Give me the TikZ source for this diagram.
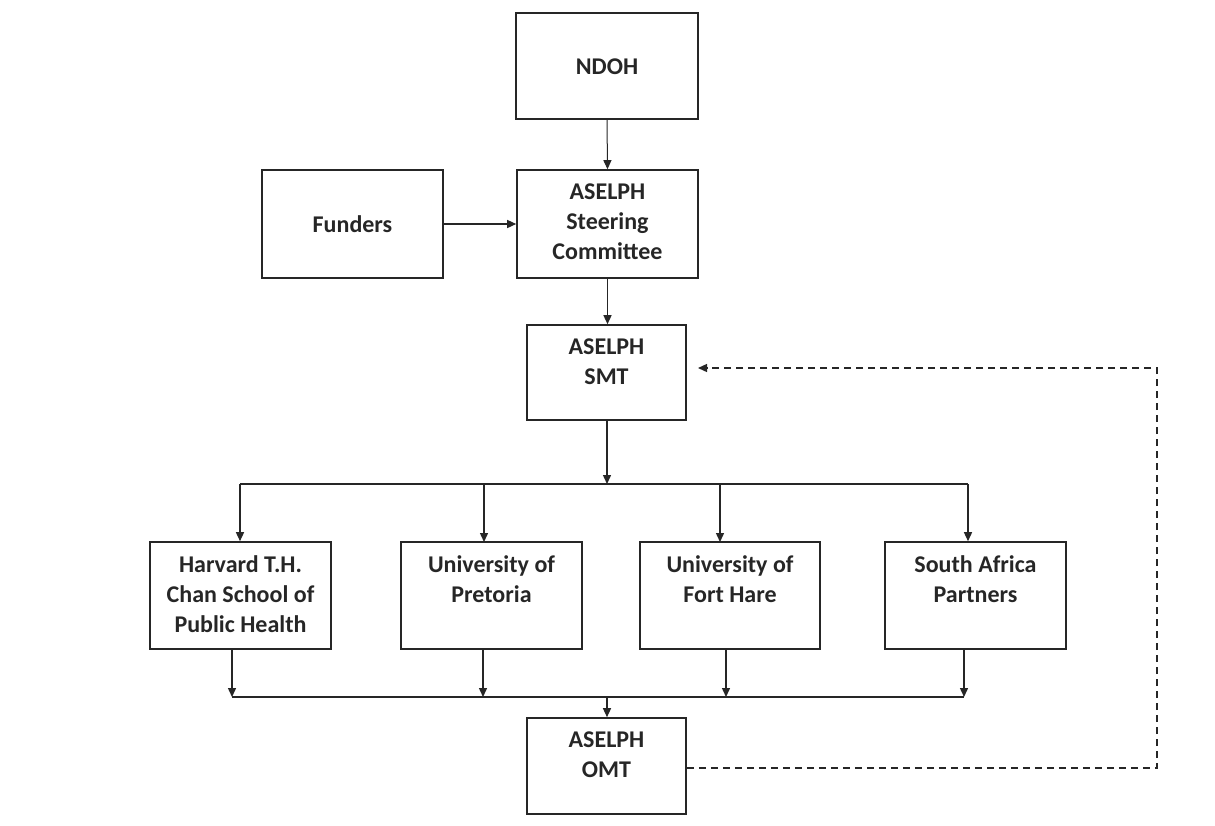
\documentclass[tikz,border=0pt]{standalone}
\usepackage{fontspec}
\setmainfont{Carlito}
\usetikzlibrary{arrows.meta}
\begin{document}
\begin{tikzpicture}[x=1pt,y=-1pt,
  box/.style={draw=black!85,line width=1.6pt,inner sep=0pt},
  txt/.style={font=\fontsize{24}{30}\selectfont\bfseries,align=center,inner sep=0pt,text=black!85},
  con/.style={line width=1.4pt,draw=black!85,-{Triangle[length=9pt,width=8pt]}},
  line/.style={line width=1.4pt,draw=black!85},
  dashline/.style={line width=1.4pt,draw=black!85,dash pattern=on 7pt off 5pt}]
\useasboundingbox (0,0) rectangle (1215,825);
% boxes
\node[box,minimum width=182pt,minimum height=106pt] (ndoh) at (607,66) {};
\node[txt] (ndoht) at ([yshift=-1pt]ndoh.center) {NDOH};
\node[box,minimum width=181pt,minimum height=108pt] (fund) at (352.5,224) {};
\node[txt] (fundt) at (fund.center) {Funders};
\node[box,minimum width=181pt,minimum height=108pt] (steer) at (607.5,224) {};
\node[txt] (steert) at ([yshift=2pt]steer.center) {ASELPH\\Steering\\Committee};
\node[box,minimum width=159pt,minimum height=95pt] (smt) at (606.5,372.5) {};
\node[txt,anchor=north] (smtt) at ([yshift=-14pt]smt.north) {ASELPH\\SMT};
\node[box,minimum width=181pt,minimum height=107pt] (harv) at (240.5,595.5) {};
\node[txt,anchor=north] (harvt) at ([yshift=-14pt]harv.north) {Harvard T.H.\\Chan School of\\Public Health};
\node[box,minimum width=181pt,minimum height=107pt] (pret) at (491.5,595.5) {};
\node[txt,anchor=north] (prett) at ([yshift=-14pt]pret.north) {University of\\Pretoria};
\node[box,minimum width=180pt,minimum height=107pt] (fort) at (730,595.5) {};
\node[txt,anchor=north] (fortt) at ([yshift=-14pt]fort.north) {University of\\Fort Hare};
\node[box,minimum width=181pt,minimum height=107pt] (sap) at (975.5,595.5) {};
\node[txt,anchor=north] (sapt) at ([yshift=-14pt]sap.north) {South Africa\\Partners};
\node[box,minimum width=159pt,minimum height=96pt] (omt) at (606.5,766) {};
\node[txt,anchor=north] (omtt) at ([yshift=-14pt]omt.north) {ASELPH\\OMT};
% coordinates
\coordinate (bus1) at (607,484);
\coordinate (b1l) at (240,484);
\coordinate (b1r) at (968,484);
\coordinate (bus2) at (607,697);
\coordinate (b2l) at (232,697);
\coordinate (b2r) at (964,697);
\coordinate (dc1) at (1157,768);
\coordinate (dc2) at (1157,368);
\coordinate (dend) at (698,368);
% connectors
\draw[con,line width=1pt] (ndoh.south) -- (steer.north);
\draw[con] (fund.east) -- (steer.west);
\draw[con] (steer.south) -- (smt.north -| steer.south);
\draw[con] (smt.south -| bus1) -- (bus1);
\draw[line] (b1l) -- (b1r);
\draw[con] (b1l) -- (b1l |- harv.north);
\draw[con] (484,484) -- (484,542);
\draw[con] (720,484) -- (720,542);
\draw[con] (b1r) -- (b1r |- sap.north);
\draw[con] (b2l |- harv.south) -- (b2l);
\draw[con] (483,649) -- (483,697);
\draw[con] (726,649) -- (726,697);
\draw[con] (b2r |- sap.south) -- (b2r);
\draw[line] (b2l) -- (b2r);
\draw[con] (bus2) -- (bus2 |- omt.north);
\draw[dashline,-{Triangle[length=9pt,width=8pt]}] (omt.east |- dc1) -- (dc1) -- (dc2) -- (dend);
\end{tikzpicture}
\end{document}
